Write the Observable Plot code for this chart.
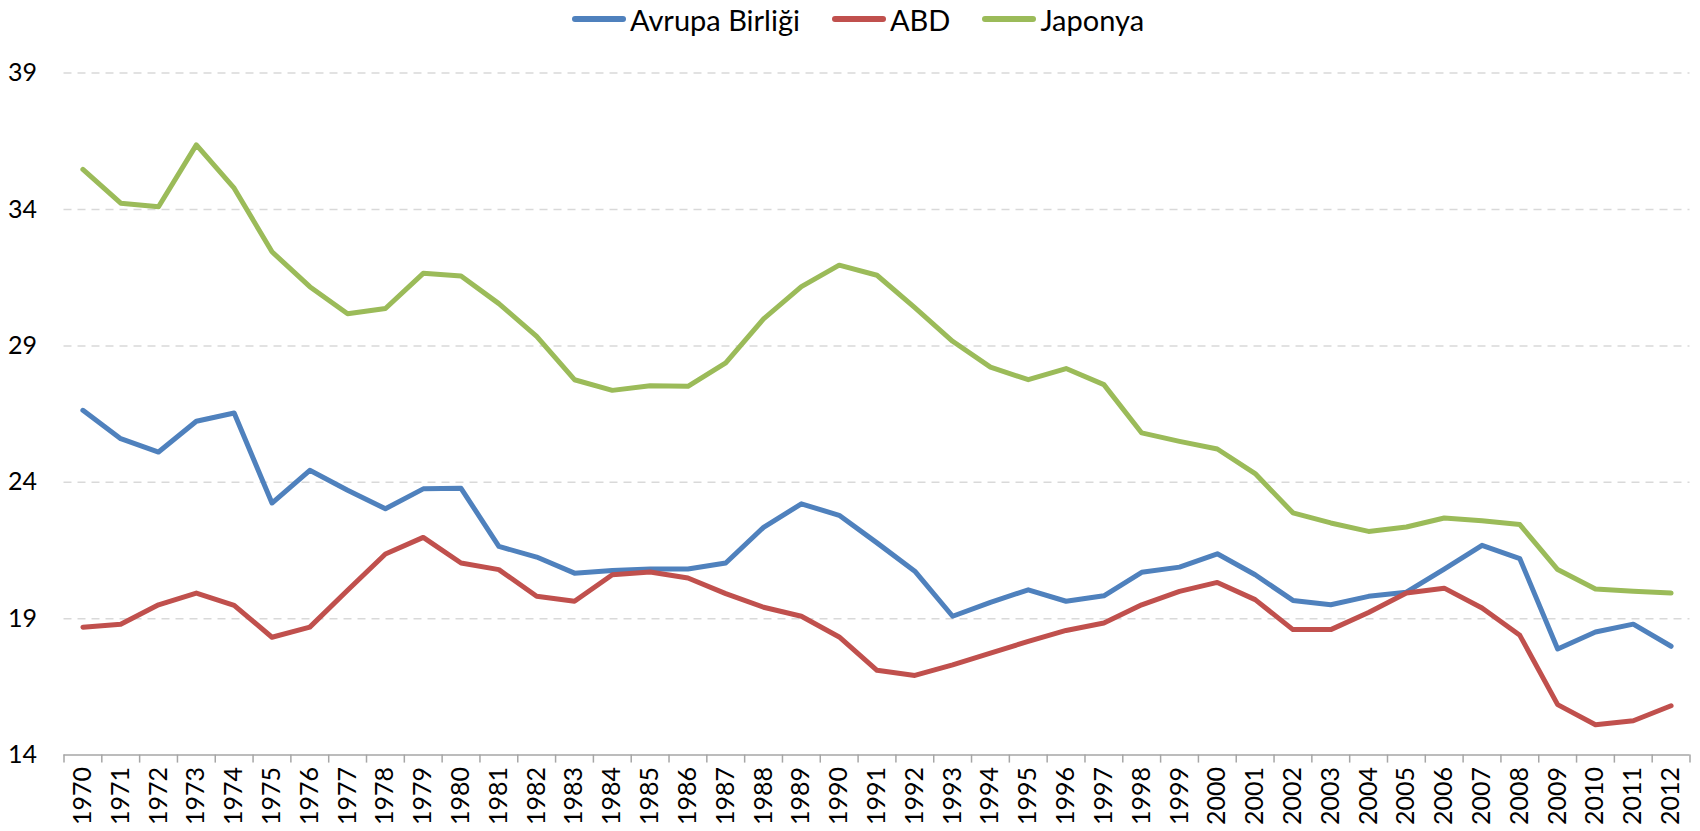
<!DOCTYPE html>
<html><head><meta charset="utf-8">
<script src="https://cdn.jsdelivr.net/npm/d3@7"></script>
<script src="https://cdn.jsdelivr.net/npm/@observablehq/plot@0.6"></script>
<style>
body{margin:0;background:#fff;font-family:Lato,"Noto Sans",sans-serif;color:#000}
#legend{height:38px;display:flex;justify-content:center;align-items:center;gap:32px;font-size:29px;padding-left:16px}
#legend .item{display:flex;align-items:center;gap:4px}
#legend .sw{display:inline-block;width:54px;height:6px;border-radius:3px}
</style>
</head><body>
<div id="legend"></div>
<div id="chart"></div>
<script>
const years = [1970,1971,1972,1973,1974,1975,1976,1977,1978,1979,1980,1981,1982,1983,1984,1985,1986,1987,1988,1989,1990,1991,1992,1993,1994,1995,1996,1997,1998,1999,2000,2001,2002,2003,2004,2005,2006,2007,2008,2009,2010,2011,2012];
const seriesNames = ["Avrupa Birliği","ABD","Japonya"];
const seriesColors = ["#4F81BD","#C0504D","#9BBB59"];
const eu = [26.64,25.60,25.11,26.24,26.54,23.24,24.44,23.71,23.03,23.76,23.78,21.65,21.26,20.67,20.77,20.82,20.82,21.04,22.35,23.21,22.79,21.78,20.74,19.09,19.60,20.06,19.64,19.84,20.70,20.89,21.38,20.61,19.67,19.51,19.82,19.97,20.82,21.69,21.20,17.89,18.51,18.80,17.99];
const us = [18.69,18.80,19.51,19.94,19.49,18.32,18.69,20.04,21.37,21.98,21.04,20.80,19.82,19.64,20.61,20.71,20.49,19.92,19.42,19.09,18.33,17.11,16.92,17.31,17.74,18.17,18.57,18.84,19.51,20.00,20.33,19.70,18.60,18.60,19.23,19.94,20.12,19.39,18.39,15.85,15.11,15.26,15.81];
const japan = [35.47,34.23,34.10,36.37,34.78,32.45,31.17,30.18,30.37,31.66,31.56,30.55,29.35,27.76,27.37,27.54,27.52,28.38,29.99,31.17,31.96,31.59,30.40,29.17,28.22,27.76,28.17,27.58,25.81,25.50,25.22,24.32,22.88,22.51,22.20,22.36,22.69,22.59,22.45,20.80,20.09,20.01,19.94];
const yTicks = [14,19,24,29,34,39];

const seriesValues = [eu, us, japan];
const data = [];
seriesNames.forEach((name, i) => {
  years.forEach((yr, j) => data.push({series: name, year: yr, value: seriesValues[i][j]}));
});

// legend
const legend = document.getElementById("legend");
seriesNames.forEach((name, i) => {
  const it = document.createElement("div");
  it.className = "item";
  const sw = document.createElement("span");
  sw.className = "sw";
  sw.style.background = seriesColors[i];
  const t = document.createElement("span");
  t.textContent = name;
  it.appendChild(sw); it.appendChild(t);
  legend.appendChild(it);
});

const boundaries = years.map(y => y - 0.5).concat([years[years.length - 1] + 0.5]);

const chart = Plot.plot({
  width: 1700,
  height: 793,
  marginTop: 34.6,
  marginBottom: 76.4,
  marginLeft: 63.5,
  marginRight: 10.5,
  style: {fontFamily: "Lato, 'Noto Sans', sans-serif", fontSize: "26px", color: "#000", background: "#fff"},
  x: {type: "linear", domain: [boundaries[0], boundaries[boundaries.length - 1]]},
  y: {domain: [14, 39]},
  color: {domain: seriesNames, range: seriesColors},
  marks: [
    Plot.gridY(yTicks.slice(1), {stroke: "#d9d9d9", strokeOpacity: 1, strokeWidth: 1.5, strokeDasharray: "8,6"}),
    Plot.ruleY([14], {stroke: "#a6a6a6", strokeWidth: 1.5}),
    Plot.axisX(boundaries, {tickSize: 8, tickFormat: () => "", stroke: "#a6a6a6", strokeWidth: 1.5, label: null}),
    Plot.axisX(years, {tickSize: 0, tickRotate: -90, tickPadding: 12, tickFormat: d => String(d), label: null, fontSize: 25}),
    Plot.axisY(yTicks, {tickSize: 0, tickPadding: 27, label: null, fontSize: 25}),
    Plot.line(data, {x: "year", y: "value", z: "series", stroke: "series", strokeWidth: 5, strokeLinejoin: "round", strokeLinecap: "round"})
  ]
});
document.getElementById("chart").appendChild(chart);
</script>
</body></html>
